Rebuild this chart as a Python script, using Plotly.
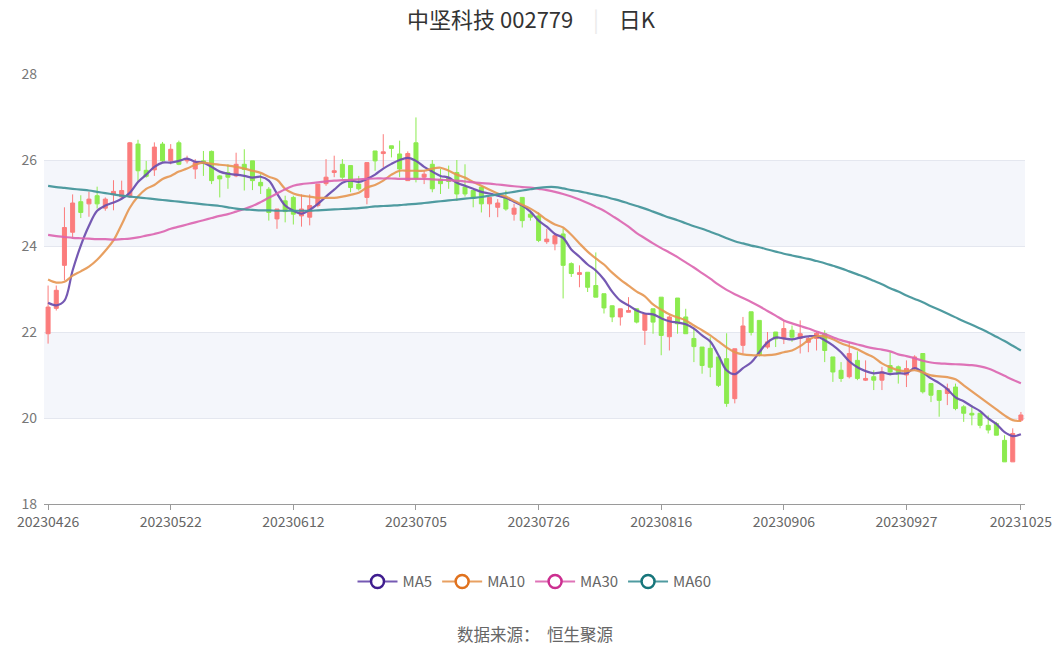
import pandas as pd
import plotly.graph_objects as go

# trading calendar (weekdays minus exchange holidays)
holidays = ["2023-05-01", "2023-05-02", "2023-05-03", "2023-06-22", "2023-06-23",
            "2023-09-29", "2023-10-02", "2023-10-03", "2023-10-04", "2023-10-05", "2023-10-06"]
days = pd.bdate_range("2023-04-26", "2023-10-25")
dates = [d.strftime("%Y%m%d") for d in days if d.strftime("%Y-%m-%d") not in holidays]

open_ = [21.96, 22.55, 23.55, 24.32, 25.03, 24.98, 25.17, 24.88, 25.20, 25.14,
         25.14, 26.37, 25.76, 25.77, 26.37, 25.98, 26.40, 25.98, 25.79, 25.98,
         26.20, 25.63, 25.71, 25.63, 25.90, 25.98, 25.48, 25.32, 24.63, 25.05,
         25.13, 24.70, 24.67, 24.94, 25.45, 25.71, 25.90, 25.87, 25.44, 25.13,
         26.21, 26.15, 26.33, 26.14, 25.52, 26.40, 25.60, 25.90, 25.55, 25.58,
         25.71, 25.37, 25.29, 25.37, 24.98, 24.90, 25.12, 24.74, 25.13, 24.74,
         24.70, 24.10, 24.05, 24.28, 23.59, 23.34, 23.39, 23.08, 22.89, 22.61,
         22.35, 22.46, 22.54, 22.04, 22.54, 22.81, 21.89, 22.79, 22.35, 21.85,
         21.65, 21.62, 21.42, 21.38, 20.45, 21.69, 22.47, 22.27, 21.65, 22.00,
         21.84, 22.04, 21.85, 21.76, 21.85, 21.96, 21.42, 21.11, 20.96, 21.34,
         20.88, 20.96, 20.88, 21.22, 21.19, 21.00, 21.15, 21.50, 20.80, 20.64,
         20.57, 20.72, 20.26, 20.11, 20.11, 19.83, 19.87, 19.48, 18.98, 19.95]
high = [23.08, 23.08, 24.90, 25.20, 25.18, 25.26, 25.38, 25.13, 25.53, 25.52,
        26.42, 26.47, 25.98, 26.41, 26.42, 26.37, 26.45, 26.10, 26.02, 26.21,
        26.22, 25.65, 25.90, 26.17, 26.25, 25.98, 25.67, 25.37, 24.86, 25.17,
        25.17, 25.20, 25.20, 25.44, 26.02, 26.10, 26.02, 25.87, 25.63, 25.94,
        26.21, 26.60, 26.33, 26.45, 26.20, 26.99, 25.75, 26.00, 25.79, 25.87,
        26.00, 25.90, 25.29, 25.37, 25.13, 25.09, 25.29, 24.98, 25.13, 24.82,
        24.78, 24.40, 24.30, 24.40, 23.62, 23.55, 23.39, 23.85, 22.89, 22.60,
        22.54, 22.81, 22.54, 22.42, 22.54, 22.81, 22.39, 22.79, 22.54, 22.11,
        21.65, 21.88, 21.42, 21.97, 21.61, 22.35, 22.47, 22.27, 22.00, 22.00,
        22.27, 22.15, 22.27, 21.88, 22.00, 22.04, 21.42, 21.30, 21.77, 21.55,
        21.34, 21.11, 21.19, 21.53, 21.22, 21.34, 21.46, 21.50, 20.80, 20.64,
        20.80, 20.80, 20.30, 20.30, 20.10, 20.06, 19.91, 19.60, 19.76, 20.14]
low = [21.73, 22.50, 23.20, 24.20, 24.65, 24.68, 24.87, 24.82, 24.83, 25.10,
       25.12, 25.50, 25.59, 25.63, 25.95, 25.90, 25.88, 25.92, 25.56, 25.63,
       25.44, 25.13, 25.33, 25.60, 25.29, 25.30, 25.21, 24.59, 24.40, 24.55,
       24.50, 24.45, 24.48, 24.90, 25.40, 25.60, 25.56, 25.25, 25.29, 24.97,
       25.75, 25.83, 26.06, 25.60, 25.52, 25.48, 25.44, 25.25, 25.21, 25.33,
       25.05, 25.15, 24.90, 24.78, 24.67, 24.67, 24.82, 24.59, 24.43, 24.59,
       24.09, 24.05, 23.90, 22.78, 23.28, 23.04, 22.93, 22.81, 22.43, 22.23,
       22.15, 22.46, 22.20, 21.70, 21.96, 21.46, 21.57, 21.96, 21.96, 21.30,
       21.03, 20.95, 20.72, 20.26, 20.34, 21.50, 21.92, 21.43, 21.61, 21.65,
       21.72, 21.77, 21.50, 21.53, 21.57, 21.30, 20.84, 20.84, 20.92, 20.88,
       20.86, 20.65, 20.65, 20.99, 20.80, 20.72, 21.11, 20.57, 20.37, 20.03,
       20.30, 20.18, 19.91, 19.83, 19.76, 19.64, 19.60, 18.98, 18.98, 19.91]
close = [22.58, 22.97, 24.43, 25.00, 24.78, 25.09, 24.98, 25.09, 25.27, 25.29,
         26.40, 25.75, 25.62, 26.30, 25.98, 26.25, 25.90, 26.02, 25.94, 25.92,
         25.52, 25.56, 25.60, 25.90, 25.78, 25.52, 25.40, 24.78, 24.86, 24.80,
         24.74, 24.86, 24.94, 25.44, 25.60, 25.75, 25.60, 25.36, 25.33, 25.94,
         25.98, 26.19, 26.27, 25.79, 26.15, 25.56, 25.67, 25.33, 25.45, 25.50,
         25.21, 25.21, 25.14, 24.98, 25.13, 25.00, 24.86, 24.88, 24.59, 24.67,
         24.13, 24.16, 24.24, 23.55, 23.36, 23.38, 23.04, 22.81, 22.56, 22.35,
         22.54, 22.50, 22.23, 22.42, 22.23, 21.92, 22.35, 22.19, 21.96, 21.66,
         21.22, 21.18, 20.76, 20.34, 21.61, 22.14, 21.99, 21.46, 21.77, 21.84,
         22.08, 21.88, 21.96, 21.85, 21.97, 21.57, 21.07, 20.92, 21.50, 20.92,
         20.92, 20.88, 21.07, 21.07, 21.03, 21.15, 21.42, 20.61, 20.53, 20.41,
         20.68, 20.22, 20.11, 20.07, 19.83, 19.72, 19.60, 18.98, 19.64, 20.07]

ma5 = [22.68, 22.62, 22.73, 23.43, 24.01, 24.47, 24.82, 24.94, 25.01, 25.10,
       25.24, 25.49, 25.66, 25.84, 25.94, 25.94, 25.98, 26.03, 25.96, 25.94,
       25.84, 25.73, 25.68, 25.66, 25.63, 25.59, 25.61, 25.52, 25.22, 24.94,
       24.82, 24.75, 24.84, 24.98, 25.15, 25.31, 25.47, 25.52, 25.49, 25.56,
       25.66, 25.80, 25.91, 26.00, 26.05, 25.98, 25.84, 25.73, 25.63, 25.59,
       25.47, 25.40, 25.33, 25.26, 25.22, 25.17, 25.12, 25.03, 24.94, 24.80,
       24.59, 24.45, 24.28, 24.19, 23.92, 23.75, 23.57, 23.43, 23.22, 22.94,
       22.73, 22.62, 22.50, 22.43, 22.41, 22.32, 22.25, 22.22, 22.18, 22.08,
       21.92, 21.78, 21.46, 21.11, 21.02, 21.16, 21.29, 21.53, 21.76, 21.87,
       21.85, 21.83, 21.87, 21.90, 21.90, 21.81, 21.69, 21.53, 21.32, 21.18,
       21.09, 21.04, 21.06, 21.02, 21.04, 21.04, 21.16, 21.06, 20.92, 20.81,
       20.67, 20.48, 20.39, 20.27, 20.16, 19.99, 19.86, 19.67, 19.58, 19.62]
ma10 = [23.22, 23.15, 23.17, 23.31, 23.41, 23.52, 23.68, 23.89, 24.13, 24.50,
        24.89, 25.15, 25.33, 25.42, 25.56, 25.63, 25.73, 25.80, 25.89, 25.94,
        25.91, 25.89, 25.87, 25.84, 25.80, 25.75, 25.70, 25.61, 25.54, 25.33,
        25.22, 25.17, 25.15, 25.12, 25.12, 25.12, 25.15, 25.19, 25.24, 25.36,
        25.42, 25.52, 25.66, 25.75, 25.75, 25.75, 25.75, 25.80, 25.82, 25.75,
        25.66, 25.59, 25.49, 25.40, 25.31, 25.22, 25.15, 25.05, 24.96, 24.87,
        24.75, 24.61, 24.50, 24.43, 24.26, 24.06, 23.87, 23.71, 23.57, 23.38,
        23.22, 23.08, 22.94, 22.83, 22.64, 22.52, 22.41, 22.34, 22.27, 22.15,
        22.04, 21.92, 21.78, 21.64, 21.53, 21.48, 21.46, 21.46, 21.46, 21.48,
        21.53, 21.57, 21.67, 21.81, 21.90, 21.90, 21.83, 21.74, 21.67, 21.60,
        21.50, 21.41, 21.27, 21.18, 21.11, 21.09, 21.11, 21.06, 20.99, 20.97,
        20.95, 20.90, 20.76, 20.62, 20.48, 20.34, 20.20, 20.06, 19.95, 19.93]
ma30 = [24.26, 24.23, 24.21, 24.19, 24.18, 24.17, 24.16, 24.16, 24.15, 24.16,
        24.17, 24.20, 24.24, 24.28, 24.33, 24.40, 24.45, 24.50, 24.55, 24.60,
        24.65, 24.70, 24.74, 24.80, 24.86, 24.93, 25.02, 25.12, 25.22, 25.32,
        25.40, 25.44, 25.46, 25.48, 25.50, 25.52, 25.53, 25.54, 25.55, 25.56,
        25.57, 25.57, 25.57, 25.56, 25.56, 25.56, 25.56, 25.55, 25.54, 25.53,
        25.52, 25.50, 25.48, 25.46, 25.45, 25.43, 25.41, 25.39, 25.37, 25.36,
        25.33, 25.30, 25.26, 25.21, 25.15, 25.08, 25.00, 24.91, 24.82, 24.70,
        24.58, 24.45, 24.30, 24.18, 24.06, 23.95, 23.85, 23.74, 23.62, 23.50,
        23.37, 23.24, 23.10, 22.98, 22.88, 22.79, 22.70, 22.60, 22.49, 22.38,
        22.27, 22.20, 22.14, 22.08, 22.01, 21.95, 21.88, 21.81, 21.76, 21.71,
        21.66, 21.62, 21.59, 21.55, 21.48, 21.44, 21.39, 21.33, 21.29, 21.27,
        21.26, 21.25, 21.24, 21.23, 21.20, 21.15, 21.07, 20.98, 20.89, 20.81]
ma60 = [25.40, 25.37, 25.35, 25.33, 25.31, 25.29, 25.26, 25.23, 25.20, 25.17,
        25.15, 25.13, 25.11, 25.09, 25.07, 25.05, 25.03, 25.01, 24.99, 24.97,
        24.95, 24.93, 24.90, 24.87, 24.85, 24.84, 24.83, 24.83, 24.82, 24.82,
        24.82, 24.82, 24.82, 24.83, 24.84, 24.85, 24.86, 24.87, 24.88, 24.90,
        24.92, 24.93, 24.94, 24.95, 24.97, 24.98, 25.00, 25.02, 25.04, 25.06,
        25.08, 25.10, 25.12, 25.14, 25.17, 25.20, 25.23, 25.26, 25.29, 25.32,
        25.35, 25.37, 25.37, 25.34, 25.30, 25.27, 25.23, 25.19, 25.15, 25.10,
        25.05, 24.99, 24.93, 24.87, 24.80, 24.73, 24.66, 24.60, 24.53, 24.46,
        24.40, 24.33, 24.26, 24.18, 24.11, 24.06, 24.01, 23.97, 23.92, 23.87,
        23.82, 23.78, 23.74, 23.70, 23.65, 23.60, 23.54, 23.48, 23.41, 23.34,
        23.27, 23.19, 23.11, 23.02, 22.94, 22.85, 22.77, 22.69, 22.60, 22.52,
        22.43, 22.34, 22.25, 22.17, 22.08, 21.99, 21.89, 21.79, 21.68, 21.57]

tick_idx = [0, 15, 30, 45, 60, 75, 90, 105, 119]
y_ticks = [18, 20, 22, 24, 26, 28]

ma_names = ["MA5", "MA10", "MA30", "MA60"]
ma_marker = ["#3f1d8f", "#e0721e", "#cc2f90", "#17767b"]
ma_line = ["rgba(110,80,175,0.95)", "rgba(230,150,80,0.9)", "rgba(220,100,175,0.9)", "rgba(70,150,155,0.95)"]

font_cn = "Noto Sans CJK SC, Noto Sans, sans-serif"

W, H = 1062, 646

fig = go.Figure()

fig.add_trace(go.Candlestick(
    x=dates, open=open_, high=high, low=low, close=close,
    increasing=dict(line=dict(color="#fb7c7c", width=1), fillcolor="#fb7c7c"),
    decreasing=dict(line=dict(color="#8ceb4f", width=1), fillcolor="#8ceb4f"),
    whiskerwidth=0, showlegend=False, hoverinfo="skip",
))

for name, vals, lc, mc in zip(ma_names, [ma5, ma10, ma30, ma60], ma_line, ma_marker):
    fig.add_trace(go.Scatter(
        x=dates, y=vals, mode="lines", line=dict(color=lc, width=2.2, shape="spline"),
        showlegend=False, hoverinfo="skip",
    ))
    # legend-only entry: line with hollow circle
    fig.add_trace(go.Scatter(
        x=[None], y=[None], mode="lines+markers", name=name,
        line=dict(color=lc, width=2),
        marker=dict(symbol="circle", size=13, color="white", line=dict(color=mc, width=2.5)),
    ))

# alternating split areas
for y0 in [20, 24]:
    fig.add_shape(type="rect", xref="paper", yref="y", x0=0, x1=1, y0=y0, y1=y0 + 2,
                  fillcolor="#f4f6fb", line_width=0, layer="below")

fig.update_layout(
    width=W, height=H,
    margin=dict(l=44, r=37, t=74, b=142, autoexpand=False),
    paper_bgcolor="white", plot_bgcolor="white",
    font=dict(family=font_cn, color="#666666", size=14),
    title=dict(
        text="中坚科技 002779    <span style='color:#ebebeb'>|</span>    日K",
        x=0.5, xanchor="center", y=1 - 20 / H, yanchor="middle",
        font=dict(family=font_cn, size=22, color="#333333"),
    ),
    showlegend=True,
    legend=dict(orientation="h", x=0.5, xanchor="center", y=-0.181, yanchor="middle",
                font=dict(size=15, color="#666666"), itemwidth=40),
    annotations=[dict(
        text="数据来源：  恒生聚源", xref="paper", yref="paper", x=0.5, y=-0.302,
        xanchor="center", yanchor="middle", showarrow=False,
        font=dict(family=font_cn, size=16.5, color="#666666"),
    )],
)

fig.update_xaxes(
    type="category", range=[-0.5, len(dates) - 0.5], rangeslider_visible=False,
    tickmode="array", tickvals=[dates[i] for i in tick_idx], ticktext=[dates[i] for i in tick_idx],
    showgrid=False, showline=True, linecolor="#9a9a9a", linewidth=1, automargin=False,
    ticks="outside", ticklen=5, tickcolor="#9a9a9a", tickfont=dict(size=14, color="#666666"),
)
fig.update_yaxes(
    range=[18, 28], tickvals=y_ticks, showgrid=True, gridcolor="#e4e7ef", gridwidth=1,
    zeroline=False, showline=False, tickfont=dict(size=14, color="#777777"), ticks="",
    ticklabelstandoff=6, automargin=False,
)

# the page body has a default 8px margin; drop it so the figure fills the window
fig.write_html("out.html", config={"displayModeBar": False},
               post_script="document.body.style.margin='0';")
